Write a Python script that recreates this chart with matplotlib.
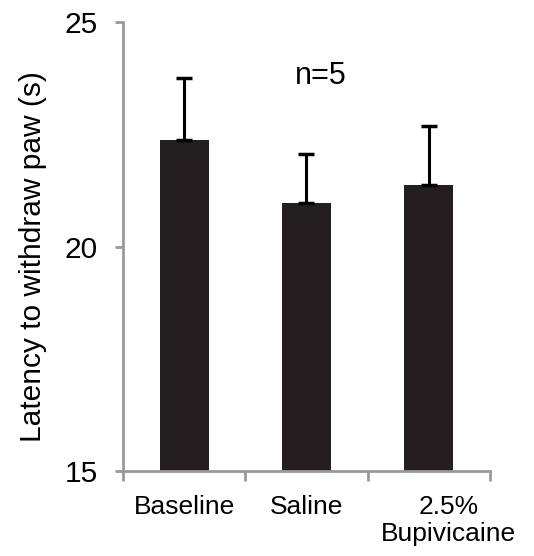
import matplotlib.pyplot as plt
import matplotlib.transforms as mtransforms
import numpy as np

plt.rcParams['font.family'] = ['Liberation Sans', 'DejaVu Sans']

# mean latency and SEM per group
groups = ['Baseline', 'Saline', '2.5%\nBupivicaine']
means = [22.37, 20.98, 21.36]
sems = [1.38, 1.07, 1.33]

fig = plt.figure(figsize=(5.34, 5.56), dpi=100)
ax = fig.add_axes([0.2303, 0.1529, 0.6873, 0.8075])

x = np.arange(len(groups))
ax.bar(x, means, width=0.40, color='#231f20', zorder=2)
ax.errorbar(x, means, yerr=[np.zeros(len(sems)), sems], fmt='none',
            ecolor='black', elinewidth=2.2, capsize=6, capthick=2.5, zorder=3)

ax.set_ylim(15, 25)
ax.set_xlim(-0.5, 2.5)
ax.set_yticks([15, 20, 25])
ax.tick_params(axis='y', labelsize=21.5, length=6, width=2, color='#999999',
               pad=12, direction='out')

# category labels sit between boundary tick marks
ax.set_xticks(x)
ax.set_xticklabels(groups, fontsize=19, linespacing=1.2)
ax.tick_params(axis='x', which='major', length=0, pad=17)
ax.set_xticks([-0.5, 0.5, 1.5, 2.5], minor=True)
ax.tick_params(axis='x', which='minor', length=7, width=2, color='#999999',
               direction='out')
lab = ax.get_xticklabels()[-1]
lab.set_transform(lab.get_transform() +
                  mtransforms.ScaledTranslation(20 / 100, 0, fig.dpi_scale_trans))

for side in ['top', 'right']:
    ax.spines[side].set_visible(False)
for side in ['left', 'bottom']:
    ax.spines[side].set_color('#999999')
    ax.spines[side].set_linewidth(2)

ax.set_ylabel('Latency to withdraw paw (s)', fontsize=21.5, labelpad=13, y=0.478)
ax.text(1.12, 23.8, 'n=5', fontsize=22, ha='center', va='center')

fig.savefig('out.png', dpi=100)
